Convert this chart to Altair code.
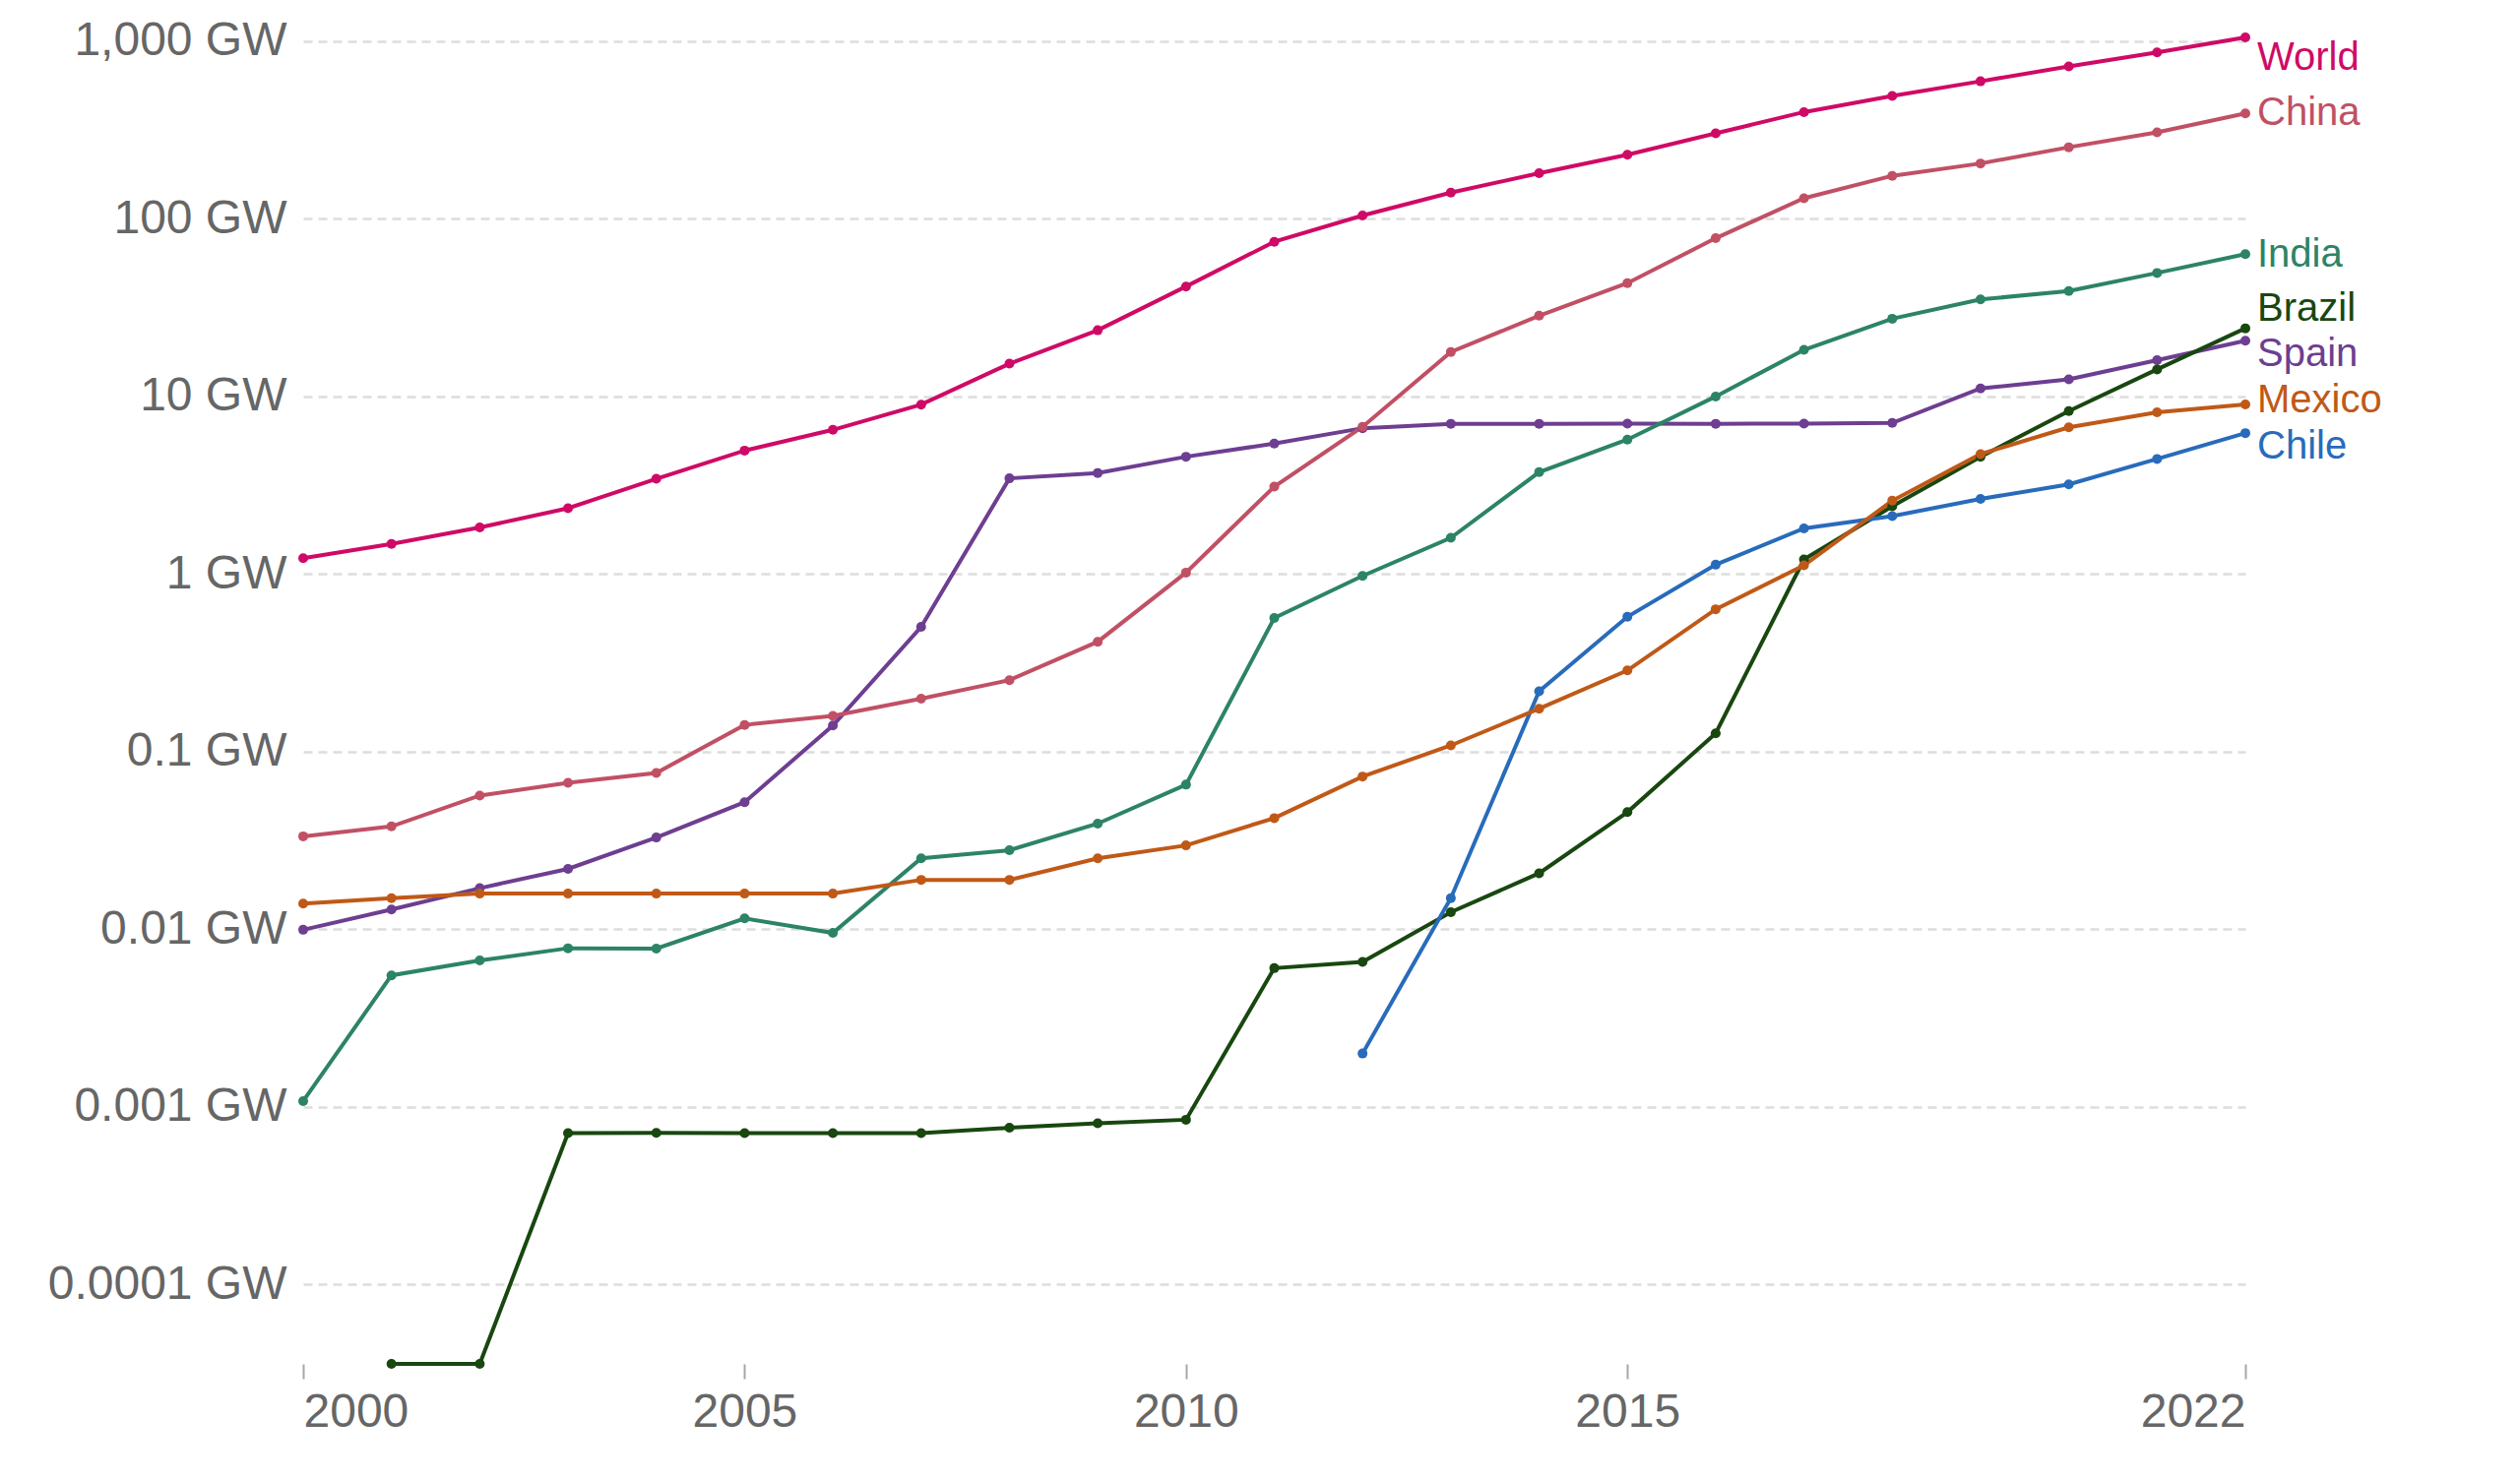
import altair as alt
import pandas as pd

YEARS = list(range(2000, 2023))

WORLD = [1.23, 1.48, 1.83, 2.35, 3.44, 4.96, 6.49, 9.0, 15.3, 23.6, 41.6, 74.3,
         104.5, 140.6, 180.8, 229.6, 303, 399, 492, 595, 721, 866, 1051]
CHINA = [0.0334, 0.038, 0.0567, 0.0668, 0.076, 0.1416, 0.159, 0.199, 0.253, 0.416,
         1.02, 3.11, 6.75, 17.8, 28.5, 43.5, 77.8, 130.6, 174.7, 205, 253, 307, 392]
INDIA = [0.00108, 0.00551, 0.00668, 0.00783, 0.0078, 0.01153, 0.00955, 0.0251,
         0.0279, 0.0394, 0.0653, 0.566, 0.977, 1.60, 3.75, 5.72, 10.0, 18.3, 27.4,
         35.2, 39.2, 49.6, 63.3]
BRAZIL = [None, 3.58e-5, 3.58e-5, 0.000713, 0.000715, 0.000713, 0.000713, 0.000713,
          0.000764, 0.00081, 0.000848, 0.00605, 0.00656, 0.0125, 0.0207, 0.0457,
          0.127, 1.21, 2.41, 4.58, 8.28, 14.2, 24.2]
SPAIN = [0.00995, 0.01294, 0.01706, 0.0219, 0.0329, 0.052, 0.1406, 0.505, 3.46,
         3.71, 4.58, 5.43, 6.63, 7.02, 7.02, 7.03, 7.02, 7.03, 7.1, 11.1, 12.5,
         16.0, 20.6]
MEXICO = [0.01397, 0.015, 0.0159, 0.0159, 0.0159, 0.0159, 0.0159, 0.019, 0.019,
          0.0251, 0.0297, 0.0423, 0.0725, 0.1086, 0.1747, 0.287, 0.634, 1.12, 2.59,
          4.74, 6.70, 8.14, 9.02]
CHILE = [None] * 12 + [0.002, 0.015, 0.219, 0.575, 1.13, 1.81, 2.12, 2.65, 3.20,
                       4.45, 6.22]

SERIES = {
    "Spain": SPAIN,
    "Brazil": BRAZIL,
    "Chile": CHILE,
    "India": INDIA,
    "Mexico": MEXICO,
    "China": CHINA,
    "World": WORLD,
}
COLORS = {
    "World": "#CF0A66",
    "China": "#C15065",
    "India": "#2C8465",
    "Brazil": "#18470F",
    "Spain": "#6D3E91",
    "Mexico": "#C05917",
    "Chile": "#286BBB",
}
# vertical pixel nudges of the end labels (collision avoidance)
LABEL_NUDGE = {
    "World": 21, "China": 0, "India": 1, "Brazil": -20,
    "Spain": 14, "Mexico": -4, "Chile": 14,
}

rows = []
for name, vals in SERIES.items():
    for yr, v in zip(YEARS, vals):
        if v is not None:
            rows.append({"country": name, "year": yr, "value": v})
df = pd.DataFrame(rows)

names = list(SERIES.keys())
color_scale = alt.Scale(domain=names, range=[COLORS[n] for n in names])

FONT = "Liberation Sans"

x_enc = alt.X(
    "year:Q",
    scale=alt.Scale(domain=[2000, 2022], nice=False, zero=False),
    axis=alt.Axis(
        values=[2000, 2005, 2010, 2015, 2022], format="d", title=None,
        grid=False, domain=False, ticks=True, tickSize=15, tickWidth=2,
        tickColor="#a6a6a6", labelPadding=10, labelFontSize=48,
        labelColor="#666666", labelFont=FONT, labelFlush=True, labelLimit=0,
    ),
)
ymin = float(df["value"].min())
ymax = float(df["value"].max())
y_enc = alt.Y(
    "value:Q",
    scale=alt.Scale(type="log", domain=[ymin, ymax], nice=False, zero=False),
    axis=alt.Axis(
        values=[0.0001, 0.001, 0.01, 0.1, 1, 10, 100, 1000], title=None,
        labelExpr="datum.value >= 1 ? format(datum.value, ',.0f') + ' GW' : format(datum.value, '~g') + ' GW'",
        grid=True, gridDash=[9, 6], gridColor="#dddddd", gridWidth=2.5,
        domain=False, ticks=False, tickSize=0, labelPadding=17,
        labelFontSize=48, labelColor="#666666", labelFont=FONT, labelLimit=0,
    ),
)

base = alt.Chart(df).encode(
    x=x_enc, y=y_enc,
    color=alt.Color("country:N", scale=color_scale, legend=None),
    order=alt.Order("year:Q"),
)

lines = base.mark_line(strokeWidth=4)
points = base.mark_point(filled=True, size=100, opacity=1)

layers = [lines, points]
last = df.sort_values("year").groupby("country").tail(1)
for name in names:
    sub = last[last["country"] == name]
    layers.append(
        alt.Chart(sub).mark_text(
            align="left", baseline="middle", dx=12, dy=LABEL_NUDGE[name],
            fontSize=40, font=FONT, color=COLORS[name],
        ).encode(
            x=alt.X("year:Q", scale=alt.Scale(domain=[2000, 2022], nice=False, zero=False)),
            y=alt.Y("value:Q", scale=alt.Scale(type="log", domain=[ymin, ymax], nice=False, zero=False)),
            text="country:N",
        )
    )

chart = alt.layer(*layers).properties(
    width=1973, height=1348,
    autosize=alt.AutoSizeParams(type="none"),
    padding={"left": 300, "top": 30, "right": 260, "bottom": 100},
    background="white",
).configure_view(stroke=None)

chart.save("out.html", embed_options={"renderer": "svg", "actions": False})
